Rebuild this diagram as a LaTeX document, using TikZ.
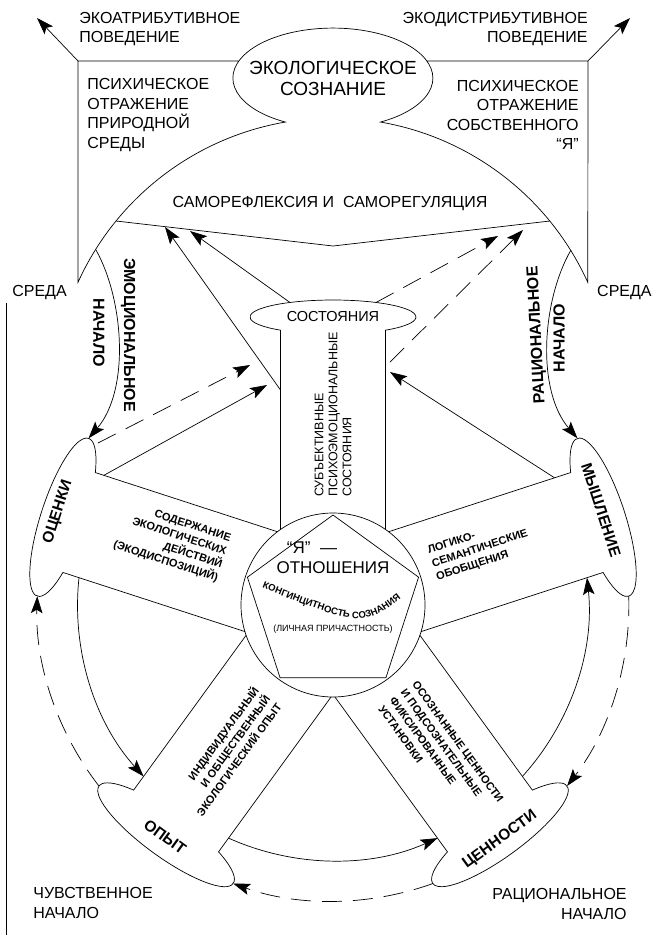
\documentclass[tikz,border=0pt]{standalone}
\usepackage{fontspec}
\setmainfont{Liberation Sans}
\usetikzlibrary{arrows.meta, decorations.text}
\tikzstyle{arrow} = [->, >={Stealth[length=17pt, width=11.5pt, inset=3.5pt]}]
\tikzstyle{dashln} = [dash pattern=on 20pt off 11pt]
\tikzstyle{txt} = [inner sep=0pt, font=\fontsize{16}{19.5}\selectfont]
\tikzstyle{bigtxt} = [inner sep=0pt, font=\fontsize{19}{21}\selectfont]
\tikzstyle{bandtxt} = [inner sep=0pt, font=\bfseries\fontsize{11}{14}\selectfont]
\tikzstyle{petaltxt} = [inner sep=0pt, font=\bfseries\fontsize{15.5}{17}\selectfont]
\tikzstyle{arctxt} = [inner sep=0pt, font=\bfseries\fontsize{16}{17}\selectfont]

\begin{document}
\begin{tikzpicture}[x=1pt, y=1pt, line width=0.7pt]
\useasboundingbox (0,0) rectangle (654,-935);
\coordinate (O) at (333,-605);

% frame, ecological consciousness and the bell
\coordinate (frameL) at (78,-61);
\coordinate (frameR) at (588,-61);
\coordinate (outL) at (37,-18);
\coordinate (outR) at (630,-18);
\draw (239,-61) -- (frameL) -- (78,-282.3) arc[start angle=155.6, end angle=99.8, radius=280]
    arc[start angle=241.6, end angle=-61.6, x radius=100, y radius=50]
    arc[start angle=80.2, end angle=24.4, radius=280] -- (frameR) -- (427,-61);
\draw[arrow] (frameL) -- (outL);
\draw[arrow] (frameR) -- (outR);

\node[txt, align=left, anchor=west] (ecoattr) at (79,-29) {ЭКОАТРИБУТИВНОЕ\\ПОВЕДЕНИЕ};
\node[txt, align=right, anchor=east] (ecodistr) at (588,-29) {ЭКОДИСТРИБУТИВНОЕ\\ПОВЕДЕНИЕ};
\node[bigtxt, align=center] (ecocons) at (333,-78) {ЭКОЛОГИЧЕСКОЕ\\СОЗНАНИЕ};
\node[txt, align=left, anchor=west] (psyL) at (87,-115) {ПСИХИЧЕСКОЕ\\ОТРАЖЕНИЕ\\ПРИРОДНОЙ\\СРЕДЫ};
\node[txt, align=right, anchor=east] (psyR) at (579,-115) {ПСИХИЧЕСКОЕ\\ОТРАЖЕНИЕ\\СОБСТВЕННОГО\\“Я”};
\node[txt] (selfref) at (330,-204) {САМОРЕФЛЕКСИЯ И \ САМОРЕГУЛЯЦИЯ};

\coordinate (vL) at (116,-221);
\coordinate (vM) at (333,-246);
\coordinate (vR) at (550,-221);
\draw (vL) -- (vM) -- (vR);

\node[txt, anchor=west] (sredaL) at (12,-293) {СРЕДА};
\node[txt, anchor=east] (sredaR) at (652,-293) {СРЕДА};
\draw (6,-303) -- (6,-935);

% core
\node[draw, circle, minimum size=184pt, inner sep=0pt] (core) at (O) {};
\draw[shift={(O)}] (90:90) -- (162:90) -- (234:90) -- (306:90) -- (18:90) -- cycle;

% petals
\begin{scope}[shift={(O)}, rotate=90]
  \draw (75.55,52.5) -- (274.83,52.5) arc[start angle=140.76, end angle=-140.76, x radius=17, y radius=83] -- (75.55,-52.5);
  \coordinate (pilL) at (215,52.5);
\end{scope}
\begin{scope}[shift={(O)}, rotate=162]
  \draw (75.55,52.5) -- (266.96,52.5) arc[start angle=140.76, end angle=-140.76, x radius=22, y radius=83] -- (75.55,-52.5);
  \coordinate (ocUp) at (258,-52.5);
  \coordinate (ocLo) at (250,52.5);
  \coordinate (ocTop) at (284,-83);
  \coordinate (ocBot) at (284,83);
\end{scope}
\begin{scope}[shift={(O)}, rotate=18]
  \draw (75.55,52.5) -- (266.96,52.5) arc[start angle=140.76, end angle=-140.76, x radius=22, y radius=83] -- (75.55,-52.5);
  \coordinate (myUp) at (250,52.5);
  \coordinate (myLo) at (250,-52.5);
  \coordinate (myTop) at (284,83);
  \coordinate (myBot) at (284,-83);
\end{scope}
\begin{scope}[shift={(O)}, rotate=234]
  \draw (75.55,52.5) -- (266.96,52.5) arc[start angle=140.76, end angle=-140.76, x radius=22, y radius=83] -- (75.55,-52.5);
  \coordinate (opUp) at (250,-52.5);
  \coordinate (opLo) at (250,52.5);
  \coordinate (opTop) at (284,-83);
  \coordinate (opBot) at (284,83);
\end{scope}
\begin{scope}[shift={(O)}, rotate=306]
  \draw (75.55,52.5) -- (266.96,52.5) arc[start angle=140.76, end angle=-140.76, x radius=22, y radius=83] -- (75.55,-52.5);
  \coordinate (vaUp) at (250,52.5);
  \coordinate (vaLo) at (250,-52.5);
  \coordinate (vaTop) at (284,83);
  \coordinate (vaBot) at (284,-83);
\end{scope}

% texts in the core and the petals
\node[inner sep=0pt, font=\fontsize{17}{19}\selectfont] (ya) at (312,-548) {“Я”\ \ —};
\node[inner sep=0pt, font=\fontsize{17}{19}\selectfont] (rel) at (333,-568) {ОТНОШЕНИЯ};
\path[decorate, decoration={text along path, text align=center,
    text={|\bfseries\fontsize{9.5}{10}\selectfont|КОНГИНЦИТНОСТЬ СОЗНАНИЯ}}]
    (255,-585) .. controls (363,-628) .. (407,-594);
\node[inner sep=0pt, font=\fontsize{9}{10}\selectfont] (pers) at (333,-629) {(ЛИЧНАЯ ПРИЧАСТНОСТЬ)};

\node[inner sep=0pt, font=\fontsize{14.5}{16}\selectfont] (states) at (333,-317) {СОСТОЯНИЯ};
\node[inner sep=0pt, rotate=90, anchor=west, align=left, font=\fontsize{12.5}{14}\selectfont] (subj) at (333,-497)
    {СУБЪЕКТИВНЫЕ\\ПСИХОЭМОЦИОНАЛЬНЫЕ\\СОСТОЯНИЯ};

\node[petaltxt, rotate=72] (ocenki) at (58,-512) {ОЦЕНКИ};
\node[petaltxt, rotate=-72] (mysl) at (601,-510) {МЫШЛЕНИЕ};
\node[petaltxt, rotate=-36] (opyt) at (165,-837) {ОПЫТ};
\node[petaltxt, rotate=36] (cenn) at (500,-840) {ЦЕННОСТИ};

\node[bandtxt, rotate=-18, align=right] (ocBand) at (172,-542) {СОДЕРЖАНИЕ\\ЭКОЛОГИЧЕСКИХ\\ДЕЙСТВИЙ\\(ЭКОДИСПОЗИЦИЙ)};
\node[bandtxt, rotate=18, align=left] (myBand) at (480,-549) {ЛОГИКО-\\СЕМАНТИЧЕСКИЕ\\ОБОБЩЕНИЯ};
\node[bandtxt, rotate=54, align=right] (opBand) at (227,-751) {ИНДИВИДУАЛЬНЫЙ\\И ОБЩЕСТВЕННЫЙ\\ЭКОЛОГИЧЕСКИЙ ОПЫТ};
\node[bandtxt, rotate=-54, align=left] (vaBand) at (441,-754) {ОСОЗНАННЫЕ ЦЕННОСТИ\\И ПОДСОЗНАТЕЛЬНЫЕ\\ФИКСИРОВАННЫЕ\\УСТАНОВКИ};

% arrows up to self-reflexion
\coordinate (stL) at (290,-302.5);
\coordinate (stR) at (376,-302.5);
\coordinate (tipA) at (165,-227);
\coordinate (tipB) at (190,-231);
\coordinate (tipC) at (498,-236);
\coordinate (tipD) at (523,-230);
\coordinate (pilR) at (390,-362);
\draw[arrow] (pilL) -- (tipA);
\draw[arrow] (stL) -- (tipB);
\draw[arrow, dashln] (stR) -- (tipC);
\draw[arrow, dashln] (pilR) -- (tipD);

% arrows to the states
\coordinate (ocE) at (98,-443);
\coordinate (tipE) at (250,-365);
\coordinate (tipF) at (267,-385);
\coordinate (tipG) at (390,-372);
\draw[arrow, dashln] (ocE) -- (tipE);
\draw[arrow] (ocUp) -- (tipF);
\draw[arrow] (myUp) -- (tipG);

% emotional and rational beginnings
\coordinate (emoS) at (96,-250);
\coordinate (ratS) at (571,-250);
\draw[arrow] (emoS) .. controls (124,-300) and (130,-390) .. (ocTop);
\draw[arrow] (ratS) .. controls (542,-300) and (536,-390) .. (myTop);
\node[arctxt, rotate=-90] (emo) at (128,-335) {ЭМОЦИОНАЛЬНОЕ};
\node[arctxt, rotate=-90] (emoN) at (99,-333) {НАЧАЛО};
\node[arctxt, rotate=93] (rat) at (537,-335) {РАЦИОНАЛЬНОЕ};
\node[arctxt, rotate=90] (ratN) at (559,-338) {НАЧАЛО};

% cycle round the core
\draw[arrow] (ocLo) arc[start angle=173.86, end angle=222.14, radius=255.45];
\draw[arrow, dashln] (opTop) arc[start angle=217.71, end angle=178.29, radius=295.9];
\draw[arrow] (opLo) arc[start angle=245.86, end angle=294.14, radius=255.45];
\draw[arrow, dashln] (vaBot) arc[start angle=289.71, end angle=250.29, radius=295.9];
\draw[arrow] (vaUp) arc[start angle=317.86, end angle=366.14, radius=255.45];
\draw[arrow, dashln] (myBot) arc[start angle=361.71, end angle=322.29, radius=295.9];

\node[txt, align=left, anchor=west] (chuv) at (33,-903) {ЧУВСТВЕННОЕ\\НАЧАЛО};
\node[txt, align=right, anchor=east] (racio) at (627,-904) {РАЦИОНАЛЬНОЕ\\НАЧАЛО};
\end{tikzpicture}
\end{document}
